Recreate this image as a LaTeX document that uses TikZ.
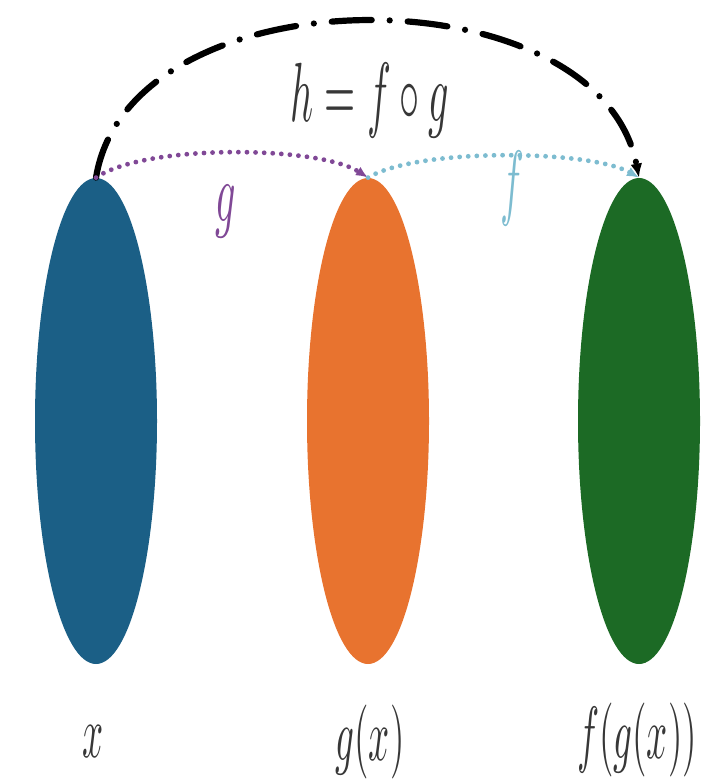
\documentclass[tikz,border=0pt]{standalone}
\usepackage{amsmath}
\usepackage{graphicx}
\usepackage{xcolor}
\usepackage{tikz}
\usetikzlibrary{arrows.meta,shapes.geometric}
\definecolor{cmedge}{RGB}{40,40,40}
\definecolor{cmx}{RGB}{27,95,134}
\definecolor{cmgx}{RGB}{232,115,47}
\definecolor{cmfgx}{RGB}{28,106,37}
\definecolor{cmg}{RGB}{128,72,150}
\definecolor{cmf}{RGB}{125,188,208}
\definecolor{cmink}{RGB}{55,55,55}
\newcommand{\arclabel}[1]{\scalebox{2.0}[4.2]{$#1$}}
\newcommand{\setlabel}[1]{\scalebox{1.85}[3.7]{$#1$}}
\tikzset{
  blob/.style={
    ellipse, inner sep=0pt, minimum width=61pt, minimum height=243pt
  },
  xset/.style={blob, fill=cmx},
  gxset/.style={blob, fill=cmgx},
  fgxset/.style={blob, fill=cmfgx},
  dotmap/.style={
    line width=2.4pt, line cap=round, dash pattern=on 0pt off 4.3pt,
    -{Latex[length=6pt,width=5pt]}
  },
  gmap/.style={dotmap, draw=cmg},
  fmap/.style={dotmap, draw=cmf},
  hmap/.style={
    draw=black, line width=3.1pt, line cap=round,
    dash pattern=on 20pt off 9pt on 0pt off 9pt,
    -{Latex[length=7pt,width=6pt]}
  },
  lbl/.style={anchor=base, inner sep=0pt, text=cmink}
}
\begin{document}
\begin{tikzpicture}[x=0.5pt, y=-0.5pt]
  \useasboundingbox (0,0) rectangle (700,780);
  % the three sets
  \node[xset] (x) at (96,421) {};
  \node[gxset] (gx) at (368,421) {};
  \node[fgxset] (fgx) at (639,421) {};
  % maps
  \draw[hmap] (x.north) .. controls +(34,-208) and +(-40,-208) .. (fgx.north);
  \draw[gmap] (x.north) .. controls +(50,-34) and +(-50,-32) .. (gx.north);
  \draw[fmap] (gx.north) .. controls +(50,-30) and +(-50,-28) .. (fgx.north);
  % labels
  \node[lbl] (hlbl) at (370,122) {\arclabel{h=f\circ g}};
  \node[lbl, text=cmg] (glbl) at (226,222) {\arclabel{g}};
  \node[lbl, text=cmf] (flbl) at (512,210) {\arclabel{f}};
  \node[lbl] (xlbl) at (93,757) {\setlabel{x}};
  \node[lbl] (gxlbl) at (370,760) {\setlabel{g(x)}};
  \node[lbl] (fgxlbl) at (637,758) {\setlabel{f(g(x))}};
\end{tikzpicture}
\end{document}
